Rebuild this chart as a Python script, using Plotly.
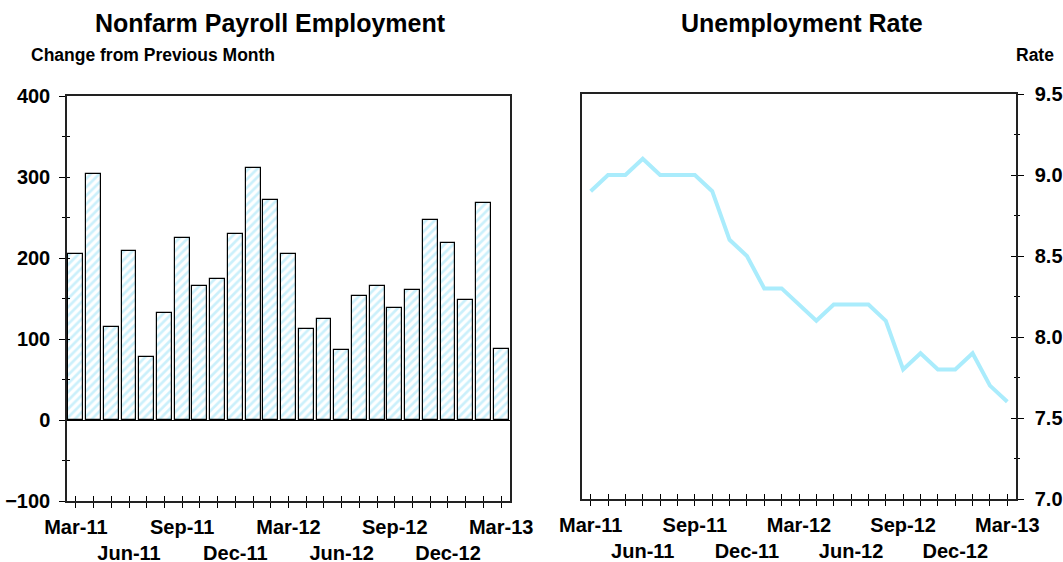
import plotly.graph_objects as go

months = ["Mar-11", "Apr-11", "May-11", "Jun-11", "Jul-11", "Aug-11", "Sep-11",
          "Oct-11", "Nov-11", "Dec-11", "Jan-12", "Feb-12", "Mar-12", "Apr-12",
          "May-12", "Jun-12", "Jul-12", "Aug-12", "Sep-12", "Oct-12", "Nov-12",
          "Dec-12", "Jan-13", "Feb-13", "Mar-13"]
payroll_change = [205, 304, 115, 209, 78, 132, 225, 166, 174, 230, 311, 271, 205,
                  112, 125, 87, 153, 165, 138, 160, 247, 219, 148, 268, 88]
unemployment_rate = [8.9, 9.0, 9.0, 9.1, 9.0, 9.0, 9.0, 8.9, 8.6, 8.5, 8.3, 8.3, 8.2,
                     8.1, 8.2, 8.2, 8.2, 8.1, 7.8, 7.9, 7.8, 7.8, 7.9, 7.7, 7.6]
left_yticks = [-100, 0, 100, 200, 300, 400]
right_yticks = [7.0, 7.5, 8.0, 8.5, 9.0, 9.5]

idx = list(range(len(months)))
ticktext = []
for i, m in enumerate(months):
    if i % 6 == 0:
        ticktext.append(m)
    elif i % 3 == 0:
        ticktext.append("<br>" + m)
    else:
        ticktext.append("")

W, H = 1063, 562
FONT = "Liberation Sans, Arial, sans-serif"
tickfont = dict(family=FONT, size=20, color="black", weight="bold")

def px_x(p):
    return p / W

def px_y(p):
    return 1 - p / H

L_dom = [px_x(67), px_x(510)]
L_ydom = [px_y(501), px_y(96)]
R_dom = [px_x(582), px_x(1016)]
R_ydom = [px_y(499), px_y(94)]

fig = go.Figure()

fig.add_trace(go.Bar(
    x=idx, y=payroll_change, xaxis="x", yaxis="y", width=0.84,
    marker=dict(color="white", line=dict(color="black", width=1.2),
                pattern=dict(shape="/", fgcolor="#98e2f8", bgcolor="white",
                             size=6, solidity=0.45)),
    showlegend=False, hoverinfo="x+y"))

fig.add_trace(go.Scatter(
    x=idx, y=unemployment_rate, xaxis="x2", yaxis="y2", mode="lines",
    line=dict(color="#aaecfc", width=4), showlegend=False))

# invisible traces so the overlay axes (inner halves of crossing ticks) render
fig.add_trace(go.Scatter(x=[0], y=[0], xaxis="x3", yaxis="y3", mode="markers",
                         marker=dict(opacity=0), showlegend=False, hoverinfo="skip"))
fig.add_trace(go.Scatter(x=[0], y=[8], xaxis="x4", yaxis="y4", mode="markers",
                         marker=dict(opacity=0), showlegend=False, hoverinfo="skip"))

xrange = [-0.5, len(months) - 0.5]
common_x = dict(range=xrange, tickmode="array", tickvals=idx, showgrid=False,
                zeroline=False, fixedrange=True, automargin=False, tickangle=0)

fig.update_layout(
    width=W, height=H, margin=dict(l=0, r=0, t=0, b=0, autoexpand=False),
    paper_bgcolor="white", plot_bgcolor="white", bargap=0,
    xaxis=dict(domain=L_dom, anchor="y", ticktext=ticktext, ticks="outside",
               ticklen=5, tickcolor="black", tickwidth=1.2, showline=True,
               linecolor="#222", linewidth=1.5, mirror=True, tickfont=tickfont,
               ticklabelstandoff=2, **common_x),
    yaxis=dict(domain=L_ydom, anchor="x", range=[-100, 400], tickmode="array",
               tickvals=left_yticks, ticks="outside", ticklen=6, tickcolor="black",
               tickwidth=1.2, showline=True, linecolor="#222", linewidth=1.5,
               mirror=True, showgrid=False, zeroline=True, zerolinecolor="black",
               zerolinewidth=1.3, tickfont=tickfont, ticklabelstandoff=5,
               automargin=False,
               minor=dict(dtick=50, ticks="outside", ticklen=3, tickcolor="black",
                          showgrid=False),
               fixedrange=True),
    xaxis3=dict(overlaying="x", anchor="y3", ticks="inside", ticklen=5,
                tickcolor="black", tickwidth=1.2, showticklabels=False,
                showline=False, **common_x),
    yaxis3=dict(overlaying="y", anchor="x3", side="left", range=[-100, 400],
                tickmode="array", tickvals=left_yticks, ticks="inside", ticklen=2,
                tickcolor="black", tickwidth=1.2, showticklabels=False,
                showline=False, showgrid=False, zeroline=False, automargin=False,
                minor=dict(dtick=50, ticks="inside", ticklen=3, tickcolor="black",
                           showgrid=False),
                fixedrange=True),
    xaxis2=dict(domain=R_dom, anchor="y2", ticktext=ticktext, ticks="outside",
                ticklen=5, tickcolor="black", tickwidth=1.2, showline=True,
                linecolor="#222", linewidth=1.5, mirror=True, tickfont=tickfont,
                ticklabelstandoff=2, **common_x),
    yaxis2=dict(domain=R_ydom, anchor="x2", side="right", range=[7.0, 9.5],
                tickmode="array", tickvals=right_yticks, tickformat=".1f",
                ticks="outside", ticklen=6, tickcolor="black", tickwidth=1.2,
                showline=True, linecolor="#222", linewidth=1.5, mirror=True,
                showgrid=False, zeroline=False, tickfont=tickfont,
                ticklabelstandoff=7, automargin=False,
                minor=dict(dtick=0.25, ticks="outside", ticklen=2,
                           tickcolor="black", showgrid=False),
                fixedrange=True),
    xaxis4=dict(overlaying="x2", anchor="y4", ticks="inside", ticklen=5,
                tickcolor="black", tickwidth=1.2, showticklabels=False,
                showline=False, **common_x),
    yaxis4=dict(overlaying="y2", anchor="x4", side="right", range=[7.0, 9.5],
                tickmode="array", tickvals=right_yticks, ticks="inside", ticklen=5,
                tickcolor="black", tickwidth=1.2, showticklabels=False,
                showline=False, showgrid=False, zeroline=False, automargin=False,
                minor=dict(dtick=0.25, ticks="inside", ticklen=2,
                           tickcolor="black", showgrid=False),
                fixedrange=True),
    annotations=[
        dict(text="Nonfarm Payroll Employment", x=px_x(270), y=px_y(23),
             xref="paper", yref="paper", xanchor="center", yanchor="middle",
             showarrow=False, font=dict(family=FONT, size=25, color="black", weight="bold")),
        dict(text="Change from Previous Month", x=px_x(29), y=px_y(55),
             xref="paper", yref="paper", xanchor="left", yanchor="middle",
             showarrow=False, font=dict(family=FONT, size=17.5, color="black", weight="bold")),
        dict(text="Unemployment Rate", x=px_x(802), y=px_y(23),
             xref="paper", yref="paper", xanchor="center", yanchor="middle",
             showarrow=False, font=dict(family=FONT, size=25, color="black", weight="bold")),
        dict(text="Rate", x=px_x(1056), y=px_y(55),
             xref="paper", yref="paper", xanchor="right", yanchor="middle",
             showarrow=False, font=dict(family=FONT, size=17.5, color="black", weight="bold")),
    ],
)

fig.write_html(
    "out.html",
    config={"displayModeBar": False},
    post_script="document.body.style.margin='0';document.body.style.overflow='hidden';",
)
